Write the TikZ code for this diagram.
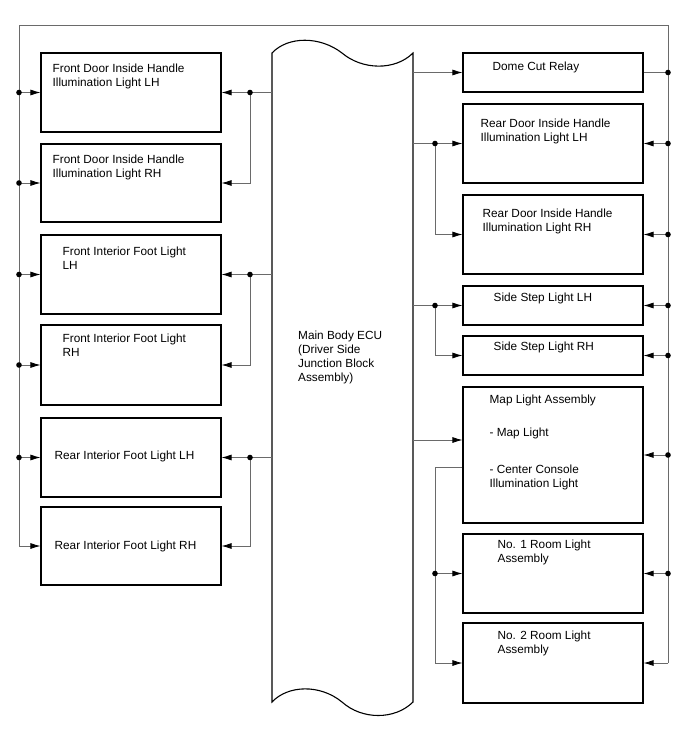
\documentclass[tikz,border=0pt]{standalone}
\usepackage{fontspec}
\setmainfont{Liberation Sans}
\usetikzlibrary{arrows.meta,calc,positioning}
\definecolor{Wire}{HTML}{6A6A6A}

\begin{document}
\begin{tikzpicture}[x=1pt, y=-1pt,
    box/.style={draw, line width=1.1pt, minimum width=180pt, inner sep=0pt},
    txt/.style={anchor=north west, inner sep=0pt, align=left, font=\fontsize{11.8}{14}\selectfont},
    wire/.style={draw=Wire, line width=0.8pt},
    feed/.style={wire, -{Latex[length=10pt,width=6pt,color=black]}}]
    \useasboundingbox (0,0) rectangle (688,755);

    % main body ECU (wavy top and bottom)
    \node[minimum width=141pt, minimum height=649pt, inner sep=0pt, outer sep=0pt] (ecu) at (342.5,377.5) {};
    \draw[line width=1.1pt] (272,53) .. controls (288,36) and (320,36) .. (342,53)
      .. controls (362,70) and (395,71) .. (413,53) -- (413,702)
      .. controls (395,720) and (362,720) .. (342,702)
      .. controls (320,684) and (288,685) .. (272,702) -- cycle;
    \node[txt] (ecu-t) at (298,331) {Main Body ECU\\(Driver Side\\Junction Block\\Assembly)};

    % left column
    \node[box, minimum height=79pt] (fdl) at (131,92.5) {};
    \node[box, minimum height=78pt] (fdr) at (131,183) {};
    \node[box, minimum height=79pt] (fifl) at (131,274.5) {};
    \node[box, minimum height=80pt] (fifr) at (131,365) {};
    \node[box, minimum height=79pt] (rifl) at (131,457.5) {};
    \node[box, minimum height=78pt] (rifr) at (131,546) {};
    \node[txt] (fdl-t) at ($(fdl.north west)+(12,11)$) {Front Door Inside Handle\\Illumination Light LH};
    \node[txt] (fdr-t) at ($(fdr.north west)+(12,11)$) {Front Door Inside Handle\\Illumination Light RH};
    \node[txt] (fifl-t) at ($(fifl.north west)+(22,12)$) {Front Interior Foot Light\\LH};
    \node[txt] (fifr-t) at ($(fifr.north west)+(22,9)$) {Front Interior Foot Light\\RH};
    \node[txt] (rifl-t) at ($(rifl.north west)+(14,33)$) {Rear Interior Foot Light LH};
    \node[txt] (rifr-t) at ($(rifr.north west)+(14,34)$) {Rear Interior Foot Light RH};

    % right column
    \node[box, minimum height=39pt] (dome) at (553,72.5) {};
    \node[box, minimum height=79pt] (rdl) at (553,143.5) {};
    \node[box, minimum height=79pt] (rdr) at (553,234.5) {};
    \node[box, minimum height=39pt] (ssl) at (553,305.5) {};
    \node[box, minimum height=39pt] (ssr) at (553,355.5) {};
    \node[box, minimum height=136pt] (map) at (553,455) {};
    \node[box, minimum height=79pt] (nr1) at (553,573.5) {};
    \node[box, minimum height=80pt] (nr2) at (553,663) {};
    \node[txt] (dome-t) at ($(dome.north west)+(30,9)$) {Dome Cut Relay};
    \node[txt] (rdl-t) at ($(rdl.north west)+(18,15)$) {Rear Door Inside Handle\\Illumination Light LH};
    \node[txt] (rdr-t) at ($(rdr.north west)+(20,14)$) {Rear Door Inside Handle\\Illumination Light RH};
    \node[txt] (ssl-t) at ($(ssl.north west)+(31,7)$) {Side Step Light LH};
    \node[txt] (ssr-t) at ($(ssr.north west)+(31,6)$) {Side Step Light RH};
    \node[txt] (map-t) at ($(map.north west)+(27,8)$) {Map Light Assembly\\[19pt]- Map Light\\[23pt]- Center Console\\Illumination Light};
    \node[txt] (nr1-t) at ($(nr1.north west)+(35,6)$) {No. 1 Room Light\\Assembly};
    \node[txt] (nr2-t) at ($(nr2.north west)+(35,8)$) {No. 2 Room Light\\Assembly};

    \coordinate (lrail) at (19,25);
    \coordinate (rrail) at (668,25);
    \coordinate (lbus) at (250,0);
    \coordinate (rbus) at (435,0);

    % outer loop
    \draw[wire] (rrail |- nr2.east) -- (rrail) -- (lrail) -- (lrail |- rifr.west);
    \draw[feed] (lrail |- fdl.west) -- (fdl.west);
    \draw[feed] (lrail |- fdr.west) -- (fdr.west);
    \draw[feed] (lrail |- fifl.west) -- (fifl.west);
    \draw[feed] (lrail |- fifr.west) -- (fifr.west);
    \draw[feed] (lrail |- rifl.west) -- (rifl.west);
    \draw[feed] (lrail |- rifr.west) -- (rifr.west);
    \draw[wire] (dome.east) -- (rrail |- dome.east);
    \draw[feed] (rrail |- rdl.east) -- (rdl.east);
    \draw[feed] (rrail |- rdr.east) -- (rdr.east);
    \draw[feed] (rrail |- ssl.east) -- (ssl.east);
    \draw[feed] (rrail |- ssr.east) -- (ssr.east);
    \draw[feed] (rrail |- map.east) -- (map.east);
    \draw[feed] (rrail |- nr1.east) -- (nr1.east);
    \draw[feed] (rrail |- nr2.east) -- (nr2.east);

    % ECU outputs, left
    \draw[feed] (ecu.west |- fdl.east) -- (fdl.east);
    \draw[feed] (lbus |- fdl.east) -- (lbus |- fdr.east) -- (fdr.east);
    \draw[feed] (ecu.west |- fifl.east) -- (fifl.east);
    \draw[feed] (lbus |- fifl.east) -- (lbus |- fifr.east) -- (fifr.east);
    \draw[feed] (ecu.west |- rifl.east) -- (rifl.east);
    \draw[feed] (lbus |- rifl.east) -- (lbus |- rifr.east) -- (rifr.east);

    % ECU outputs, right
    \draw[feed] (ecu.east |- dome.west) -- (dome.west);
    \draw[feed] (ecu.east |- rdl.west) -- (rdl.west);
    \draw[feed] (rbus |- rdl.west) -- (rbus |- rdr.west) -- (rdr.west);
    \draw[feed] (ecu.east |- ssl.west) -- (ssl.west);
    \draw[feed] (rbus |- ssl.west) -- (rbus |- ssr.west) -- (ssr.west);
    \draw[feed] ($(ecu.east |- map.west)+(0,-15)$) -- ($(map.west)+(0,-15)$);
    \draw[feed] ($(map.west)+(0,12)$) -- ($(rbus |- map.west)+(0,12)$) -- (rbus |- nr2.west) -- (nr2.west);
    \draw[feed] (rbus |- nr1.west) -- (nr1.west);

    % junction dots
    \fill (lrail |- fdl.west) circle (2.8pt);
    \fill (lrail |- fdr.west) circle (2.8pt);
    \fill (lrail |- fifl.west) circle (2.8pt);
    \fill (lrail |- fifr.west) circle (2.8pt);
    \fill (lrail |- rifl.west) circle (2.8pt);
    \fill (rrail |- dome.east) circle (2.8pt);
    \fill (rrail |- rdl.east) circle (2.8pt);
    \fill (rrail |- rdr.east) circle (2.8pt);
    \fill (rrail |- ssl.east) circle (2.8pt);
    \fill (rrail |- ssr.east) circle (2.8pt);
    \fill (rrail |- map.east) circle (2.8pt);
    \fill (rrail |- nr1.east) circle (2.8pt);
    \fill (lbus |- fdl.east) circle (2.8pt);
    \fill (lbus |- fifl.east) circle (2.8pt);
    \fill (lbus |- rifl.east) circle (2.8pt);
    \fill (rbus |- rdl.west) circle (2.8pt);
    \fill (rbus |- ssl.west) circle (2.8pt);
    \fill (rbus |- nr1.west) circle (2.8pt);
\end{tikzpicture}
\end{document}
